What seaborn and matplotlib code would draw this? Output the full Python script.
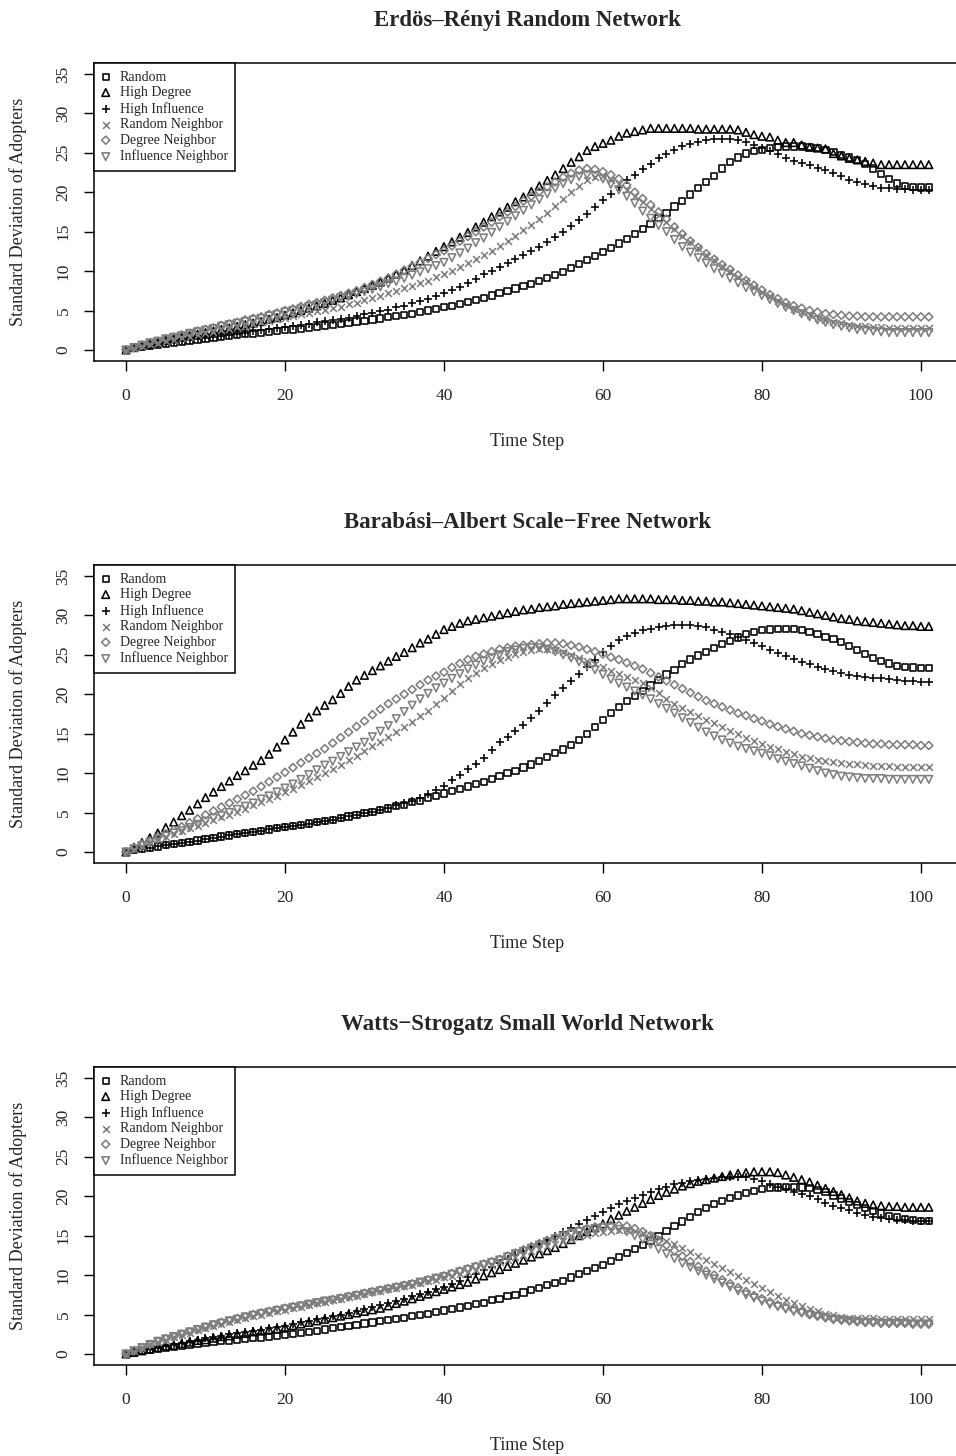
import matplotlib
matplotlib.use("Agg")
import matplotlib.pyplot as plt
import seaborn as sns

# time steps of the simulation (x axis)
time_steps = list(range(102))

strategies = ["Random", "High Degree", "High Influence",
              "Random Neighbor", "Degree Neighbor", "Influence Neighbor"]

titles = ["Erdös–Rényi Random Network",
          "Barabási–Albert Scale−Free Network",
          "Watts−Strogatz Small World Network"]

x_ticks = [0, 20, 40, 60, 80, 100]
y_ticks = [0, 5, 10, 15, 20, 25, 30, 35]

# ---- Erdos-Renyi ----
er_random = [
    0.0, 0.2, 0.35, 0.5, 0.65, 0.8, 0.9, 1.0, 1.15, 1.25,
    1.4, 1.5, 1.6, 1.75, 1.85, 2.0, 2.1, 2.2, 2.3, 2.4,
    2.5, 2.6, 2.7, 2.85, 2.95, 3.1, 3.2, 3.3, 3.45, 3.6,
    3.7, 3.85, 4.0, 4.15, 4.3, 4.45, 4.6, 4.8, 5.0, 5.2,
    5.4, 5.6, 5.85, 6.1, 6.35, 6.6, 6.9, 7.2, 7.5, 7.8,
    8.1, 8.4, 8.7, 9.1, 9.5, 9.9, 10.4, 10.9, 11.4, 11.9,
    12.4, 12.9, 13.5, 14.1, 14.7, 15.3, 16.0, 16.7, 17.4, 18.2,
    18.9, 19.7, 20.5, 21.3, 22.1, 23.0, 23.8, 24.4, 24.9, 25.2,
    25.4, 25.6, 25.7, 25.8, 25.8, 25.8, 25.7, 25.6, 25.4, 25.1,
    24.7, 24.4, 24.1, 23.6, 23.0, 22.3, 21.7, 21.1, 20.8, 20.7,
    20.6, 20.6]
er_high_degree = [
    0.0, 0.3, 0.6, 0.8, 1.0, 1.2, 1.4, 1.6, 1.8, 2.0,
    2.2, 2.4, 2.6, 2.8, 3.0, 3.2, 3.4, 3.6, 3.9, 4.1,
    4.4, 4.7, 5.0, 5.3, 5.6, 5.9, 6.3, 6.6, 7.0, 7.4,
    7.8, 8.2, 8.6, 9.1, 9.6, 10.1, 10.7, 11.3, 11.9, 12.5,
    13.1, 13.7, 14.3, 14.9, 15.6, 16.2, 16.9, 17.5, 18.1, 18.8,
    19.4, 20.1, 20.8, 21.5, 22.2, 23.0, 23.8, 24.5, 25.3, 25.8,
    26.2, 26.6, 27.1, 27.5, 27.7, 27.9, 28.1, 28.1, 28.1, 28.1,
    28.1, 28.1, 28.0, 28.0, 28.0, 28.0, 28.0, 27.9, 27.6, 27.3,
    27.1, 27.0, 26.6, 26.3, 26.3, 26.0, 25.7, 25.6, 25.5, 24.9,
    24.6, 24.3, 24.1, 23.9, 23.7, 23.5, 23.5, 23.5, 23.5, 23.5,
    23.5, 23.5]
er_high_influence = [
    0.0, 0.2, 0.4, 0.55, 0.7, 0.85, 1.0, 1.1, 1.25, 1.4,
    1.5, 1.65, 1.8, 1.9, 2.05, 2.2, 2.35, 2.5, 2.6, 2.75,
    2.9, 3.05, 3.2, 3.35, 3.5, 3.65, 3.8, 3.95, 4.1, 4.3,
    4.5, 4.7, 4.9, 5.1, 5.4, 5.6, 5.9, 6.2, 6.5, 6.8,
    7.2, 7.6, 8.0, 8.5, 9.0, 9.6, 10.0, 10.5, 11.0, 11.5,
    12.0, 12.6, 13.1, 13.7, 14.3, 15.0, 15.7, 16.5, 17.3, 18.1,
    19.0, 19.8, 20.7, 21.5, 22.2, 22.9, 23.6, 24.3, 24.9, 25.4,
    25.8, 26.1, 26.4, 26.6, 26.7, 26.8, 26.8, 26.6, 26.4, 26.0,
    25.6, 25.2, 24.8, 24.4, 24.0, 23.7, 23.4, 23.1, 22.8, 22.4,
    22.0, 21.6, 21.3, 21.0, 20.8, 20.6, 20.5, 20.4, 20.4, 20.3,
    20.3, 20.3]
er_random_neighbor = [
    0.0, 0.25, 0.5, 0.7, 0.9, 1.1, 1.3, 1.5, 1.7, 1.9,
    2.1, 2.3, 2.5, 2.7, 2.9, 3.1, 3.3, 3.5, 3.7, 3.9,
    4.1, 4.3, 4.5, 4.7, 4.9, 5.1, 5.3, 5.5, 5.8, 6.0,
    6.3, 6.6, 6.9, 7.2, 7.5, 7.8, 8.1, 8.5, 8.8, 9.2,
    9.6, 10.0, 10.5, 11.0, 11.5, 12.0, 12.6, 13.2, 13.8, 14.5,
    15.2, 15.9, 16.6, 17.4, 18.3, 19.2, 20.0, 20.8, 21.5, 21.9,
    22.0, 21.6, 21.0, 20.3, 19.5, 18.7, 17.9, 17.1, 16.2, 15.3,
    14.5, 13.7, 12.9, 12.1, 11.4, 10.7, 10.0, 9.3, 8.7, 8.0,
    7.4, 6.8, 6.2, 5.7, 5.2, 4.8, 4.4, 4.1, 3.8, 3.6,
    3.4, 3.2, 3.1, 3.0, 2.9, 2.9, 2.8, 2.8, 2.8, 2.8,
    2.8, 2.8]
er_degree_neighbor = [
    0.0, 0.3, 0.6, 0.9, 1.1, 1.4, 1.6, 1.9, 2.1, 2.4,
    2.6, 2.8, 3.1, 3.3, 3.5, 3.8, 4.0, 4.2, 4.5, 4.7,
    5.0, 5.2, 5.5, 5.8, 6.0, 6.3, 6.6, 6.9, 7.2, 7.5,
    7.9, 8.3, 8.7, 9.1, 9.6, 10.1, 10.6, 11.1, 11.6, 12.1,
    12.6, 13.2, 13.8, 14.4, 15.0, 15.6, 16.2, 16.9, 17.5, 18.2,
    18.9, 19.5, 20.1, 20.7, 21.3, 21.9, 22.4, 22.8, 23.0, 22.9,
    22.6, 22.2, 21.7, 20.9, 20.0, 19.2, 18.4, 17.5, 16.6, 15.6,
    14.7, 13.8, 13.0, 12.2, 11.5, 10.8, 10.2, 9.5, 8.8, 8.2,
    7.6, 7.0, 6.5, 6.0, 5.6, 5.3, 5.0, 4.8, 4.6, 4.5,
    4.4, 4.3, 4.3, 4.2, 4.2, 4.2, 4.2, 4.2, 4.2, 4.2,
    4.2, 4.2]
er_influence_neighbor = [
    0.0, 0.3, 0.6, 0.9, 1.1, 1.4, 1.6, 1.8, 2.1, 2.3,
    2.5, 2.7, 3.0, 3.2, 3.4, 3.6, 3.8, 4.0, 4.3, 4.5,
    4.8, 5.0, 5.2, 5.5, 5.7, 6.0, 6.3, 6.6, 6.8, 7.1,
    7.4, 7.7, 8.0, 8.4, 8.7, 9.1, 9.5, 9.9, 10.3, 10.7,
    11.1, 11.7, 12.3, 12.9, 13.6, 14.2, 14.9, 15.6, 16.3, 17.0,
    17.7, 18.4, 19.1, 19.8, 20.5, 21.1, 21.6, 22.0, 22.2, 22.1,
    21.7, 21.0, 20.3, 19.5, 18.6, 17.6, 16.7, 15.8, 15.0, 14.0,
    13.1, 12.4, 11.7, 11.0, 10.3, 9.7, 9.1, 8.5, 7.9, 7.4,
    6.9, 6.4, 5.9, 5.4, 5.0, 4.6, 4.2, 3.8, 3.5, 3.2,
    3.0, 2.8, 2.6, 2.5, 2.4, 2.3, 2.2, 2.2, 2.2, 2.2,
    2.2, 2.2]

# ---- Barabasi-Albert ----
ba_random = [
    0.0, 0.2, 0.4, 0.55, 0.7, 0.85, 1.0, 1.15, 1.3, 1.45,
    1.6, 1.8, 1.95, 2.1, 2.25, 2.4, 2.55, 2.7, 2.85, 3.0,
    3.15, 3.3, 3.45, 3.6, 3.75, 3.9, 4.1, 4.3, 4.5, 4.7,
    4.9, 5.1, 5.3, 5.5, 5.8, 6.0, 6.3, 6.5, 6.8, 7.1,
    7.4, 7.7, 8.0, 8.3, 8.6, 8.9, 9.3, 9.6, 10.0, 10.3,
    10.7, 11.1, 11.5, 12.0, 12.5, 13.0, 13.6, 14.2, 15.0, 15.8,
    16.7, 17.6, 18.4, 19.1, 19.8, 20.4, 21.1, 21.8, 22.5, 23.1,
    23.8, 24.4, 24.9, 25.4, 25.9, 26.4, 26.8, 27.2, 27.6, 27.9,
    28.1, 28.2, 28.3, 28.3, 28.3, 28.1, 27.9, 27.6, 27.3, 27.0,
    26.6, 26.1, 25.6, 25.1, 24.6, 24.2, 23.9, 23.6, 23.5, 23.4,
    23.3, 23.3]
ba_high_degree = [
    0.0, 0.6, 1.2, 1.8, 2.4, 3.1, 3.8, 4.6, 5.3, 6.1,
    6.9, 7.6, 8.3, 9.0, 9.7, 10.3, 11.0, 11.6, 12.4, 13.3,
    14.2, 15.2, 16.2, 17.1, 17.9, 18.6, 19.3, 20.1, 21.0, 21.8,
    22.4, 23.0, 23.6, 24.2, 24.8, 25.3, 25.9, 26.5, 27.0, 27.6,
    28.2, 28.6, 29.0, 29.3, 29.5, 29.7, 29.9, 30.1, 30.3, 30.5,
    30.7, 30.8, 31.0, 31.1, 31.2, 31.4, 31.5, 31.6, 31.7, 31.8,
    31.9, 32.0, 32.1, 32.1, 32.1, 32.1, 32.1, 32.0, 32.0, 32.0,
    31.9, 31.9, 31.8, 31.8, 31.7, 31.7, 31.6, 31.5, 31.4, 31.3,
    31.2, 31.1, 31.0, 30.9, 30.8, 30.6, 30.4, 30.2, 30.0, 29.8,
    29.6, 29.5, 29.3, 29.2, 29.1, 29.0, 28.9, 28.8, 28.7, 28.7,
    28.6, 28.6]
ba_high_influence = [
    0.0, 0.2, 0.4, 0.55, 0.7, 0.85, 1.0, 1.15, 1.3, 1.45,
    1.6, 1.8, 1.95, 2.1, 2.25, 2.4, 2.55, 2.7, 2.85, 3.0,
    3.15, 3.3, 3.45, 3.6, 3.75, 3.9, 4.1, 4.3, 4.5, 4.7,
    4.9, 5.1, 5.3, 5.6, 5.9, 6.2, 6.5, 6.9, 7.3, 7.8,
    8.4, 9.1, 9.8, 10.5, 11.2, 11.9, 12.9, 13.9, 14.6, 15.3,
    16.1, 17.0, 17.9, 18.9, 19.9, 20.8, 21.7, 22.6, 23.5, 24.4,
    25.3, 26.1, 26.9, 27.4, 27.8, 28.1, 28.3, 28.5, 28.7, 28.8,
    28.8, 28.8, 28.7, 28.5, 28.2, 27.9, 27.6, 27.2, 26.9, 26.5,
    26.1, 25.6, 25.2, 24.8, 24.5, 24.1, 23.8, 23.5, 23.2, 22.9,
    22.7, 22.5, 22.3, 22.2, 22.1, 22.0, 21.9, 21.8, 21.7, 21.7,
    21.6, 21.6]
ba_random_neighbor = [
    0.0, 0.4, 0.8, 1.2, 1.6, 1.9, 2.3, 2.6, 3.0, 3.3,
    3.7, 4.0, 4.4, 4.7, 5.1, 5.5, 5.9, 6.3, 6.7, 7.1,
    7.6, 8.0, 8.5, 9.0, 9.5, 10.0, 10.5, 11.0, 11.6, 12.2,
    12.8, 13.4, 14.0, 14.6, 15.2, 15.8, 16.5, 17.2, 17.9, 18.7,
    19.5, 20.4, 21.3, 22.0, 22.7, 23.3, 23.8, 24.3, 24.7, 25.1,
    25.4, 25.6, 25.7, 25.7, 25.6, 25.3, 25.0, 24.6, 24.2, 23.8,
    23.4, 23.0, 22.6, 22.2, 21.8, 21.4, 20.8, 20.1, 19.4, 18.8,
    18.2, 17.7, 17.2, 16.7, 16.3, 15.9, 15.4, 15.0, 14.5, 14.1,
    13.7, 13.3, 13.0, 12.7, 12.4, 12.1, 11.9, 11.7, 11.5, 11.4,
    11.3, 11.2, 11.1, 11.0, 10.9, 10.9, 10.9, 10.8, 10.8, 10.8,
    10.8, 10.8]
ba_degree_neighbor = [
    0.0, 0.5, 1.0, 1.4, 1.9, 2.3, 2.8, 3.2, 3.7, 4.2,
    4.7, 5.2, 5.7, 6.2, 6.7, 7.2, 7.7, 8.3, 8.9, 9.5,
    10.1, 10.7, 11.3, 11.9, 12.5, 13.1, 13.8, 14.5, 15.2, 15.9,
    16.6, 17.4, 18.1, 18.8, 19.4, 20.0, 20.6, 21.2, 21.8, 22.3,
    22.8, 23.4, 23.9, 24.4, 24.8, 25.1, 25.4, 25.7, 25.9, 26.1,
    26.2, 26.3, 26.4, 26.5, 26.5, 26.4, 26.2, 26.0, 25.7, 25.4,
    25.1, 24.7, 24.4, 24.0, 23.6, 23.2, 22.7, 22.2, 21.7, 21.2,
    20.7, 20.2, 19.7, 19.2, 18.8, 18.4, 18.0, 17.6, 17.3, 16.9,
    16.6, 16.2, 15.9, 15.6, 15.3, 15.0, 14.8, 14.6, 14.4, 14.2,
    14.1, 14.0, 13.9, 13.8, 13.7, 13.7, 13.6, 13.6, 13.6, 13.6,
    13.5, 13.5]
ba_influence_neighbor = [
    0.0, 0.4, 0.8, 1.2, 1.6, 2.0, 2.4, 2.7, 3.1, 3.5,
    3.9, 4.3, 4.6, 5.0, 5.4, 5.8, 6.2, 6.7, 7.1, 7.6,
    8.1, 8.6, 9.2, 9.8, 10.4, 11.0, 11.5, 12.1, 12.7, 13.3,
    13.9, 14.6, 15.3, 16.0, 16.9, 17.8, 18.6, 19.4, 20.1, 20.8,
    21.4, 22.0, 22.6, 23.2, 23.7, 24.2, 24.6, 25.0, 25.4, 25.6,
    25.8, 25.9, 25.9, 25.7, 25.4, 25.0, 24.6, 24.1, 23.6, 23.1,
    22.5, 21.9, 21.4, 20.9, 20.4, 19.9, 19.4, 18.8, 18.2, 17.6,
    17.0, 16.4, 15.8, 15.2, 14.7, 14.2, 13.8, 13.4, 13.1, 12.8,
    12.5, 12.2, 11.8, 11.5, 11.2, 10.9, 10.6, 10.3, 10.0, 9.8,
    9.6, 9.5, 9.4, 9.3, 9.3, 9.3, 9.2, 9.2, 9.2, 9.2,
    9.2, 9.2]

# ---- Watts-Strogatz ----
ws_random = [
    0.0, 0.2, 0.35, 0.5, 0.65, 0.8, 0.9, 1.0, 1.15, 1.25,
    1.4, 1.5, 1.6, 1.7, 1.8, 1.9, 2.0, 2.1, 2.2, 2.3,
    2.4, 2.5, 2.65, 2.8, 2.95, 3.1, 3.25, 3.4, 3.55, 3.7,
    3.85, 4.0, 4.15, 4.3, 4.45, 4.6, 4.8, 4.95, 5.1, 5.3,
    5.5, 5.7, 5.9, 6.1, 6.3, 6.5, 6.8, 7.0, 7.3, 7.5,
    7.8, 8.1, 8.4, 8.7, 9.0, 9.3, 9.7, 10.1, 10.5, 10.9,
    11.3, 11.8, 12.3, 12.8, 13.3, 13.8, 14.4, 15.0, 15.6, 16.2,
    16.8, 17.4, 18.0, 18.5, 19.0, 19.4, 19.8, 20.1, 20.4, 20.7,
    20.9, 21.0, 21.1, 21.2, 21.2, 21.1, 21.0, 20.8, 20.5, 20.1,
    19.7, 19.3, 18.9, 18.5, 18.1, 17.8, 17.5, 17.3, 17.1, 17.0,
    16.9, 16.9]
ws_high_degree = [
    0.0, 0.2, 0.4, 0.6, 0.8, 1.0, 1.1, 1.3, 1.5, 1.7,
    1.8, 2.0, 2.2, 2.3, 2.5, 2.6, 2.8, 2.9, 3.1, 3.2,
    3.4, 3.6, 3.8, 4.0, 4.2, 4.4, 4.6, 4.8, 5.0, 5.2,
    5.4, 5.6, 5.8, 6.1, 6.4, 6.7, 7.0, 7.3, 7.6, 7.9,
    8.2, 8.5, 8.8, 9.1, 9.5, 9.9, 10.3, 10.7, 11.1, 11.5,
    11.9, 12.3, 12.7, 13.1, 13.5, 14.0, 14.5, 15.0, 15.5, 16.0,
    16.5, 17.1, 17.6, 18.1, 18.6, 19.1, 19.6, 20.1, 20.5, 20.9,
    21.3, 21.6, 21.9, 22.1, 22.3, 22.5, 22.7, 22.9, 23.0, 23.1,
    23.1, 23.1, 23.0, 22.7, 22.4, 22.1, 21.8, 21.4, 21.0, 20.6,
    20.2, 19.8, 19.4, 19.1, 18.9, 18.8, 18.7, 18.7, 18.6, 18.6,
    18.6, 18.6]
ws_high_influence = [
    0.0, 0.2, 0.4, 0.6, 0.8, 1.0, 1.2, 1.4, 1.6, 1.8,
    2.0, 2.1, 2.3, 2.5, 2.6, 2.8, 2.9, 3.1, 3.3, 3.4,
    3.6, 3.8, 4.0, 4.2, 4.4, 4.6, 4.8, 5.0, 5.2, 5.5,
    5.7, 5.9, 6.2, 6.4, 6.7, 7.0, 7.3, 7.6, 7.9, 8.2,
    8.5, 8.9, 9.3, 9.7, 10.1, 10.6, 11.0, 11.5, 12.0, 12.5,
    13.0, 13.5, 14.0, 14.5, 15.0, 15.5, 16.0, 16.5, 17.0, 17.5,
    18.0, 18.5, 19.0, 19.4, 19.8, 20.2, 20.6, 20.9, 21.2, 21.5,
    21.7, 21.9, 22.1, 22.2, 22.3, 22.4, 22.5, 22.5, 22.4, 22.2,
    21.9, 21.6, 21.2, 20.9, 20.6, 20.3, 20.0, 19.6, 19.2, 18.8,
    18.5, 18.2, 17.9, 17.6, 17.4, 17.2, 17.1, 17.0, 17.0, 16.9,
    16.9, 16.9]
ws_random_neighbor = [
    0.0, 0.4, 0.8, 1.2, 1.5, 1.8, 2.1, 2.4, 2.7, 3.0,
    3.3, 3.6, 3.8, 4.1, 4.3, 4.6, 4.8, 5.0, 5.2, 5.4,
    5.6, 5.8, 6.0, 6.2, 6.4, 6.6, 6.8, 7.0, 7.2, 7.4,
    7.6, 7.8, 8.0, 8.2, 8.4, 8.6, 8.8, 9.0, 9.2, 9.4,
    9.7, 9.9, 10.2, 10.4, 10.7, 11.0, 11.3, 11.6, 11.9, 12.3,
    12.6, 13.0, 13.3, 13.7, 14.0, 14.3, 14.6, 14.9, 15.1, 15.3,
    15.5, 15.6, 15.7, 15.7, 15.6, 15.4, 15.1, 14.7, 14.3, 13.9,
    13.4, 12.9, 12.4, 11.9, 11.4, 10.9, 10.4, 9.9, 9.4, 8.9,
    8.4, 7.9, 7.4, 6.9, 6.5, 6.1, 5.7, 5.4, 5.1, 4.9,
    4.7, 4.6, 4.5, 4.5, 4.5, 4.4, 4.4, 4.4, 4.4, 4.4,
    4.4, 4.4]
ws_degree_neighbor = [
    0.0, 0.4, 0.8, 1.2, 1.6, 1.9, 2.2, 2.5, 2.8, 3.1,
    3.4, 3.7, 4.0, 4.2, 4.5, 4.7, 5.0, 5.2, 5.4, 5.6,
    5.8, 6.0, 6.1, 6.3, 6.5, 6.7, 6.9, 7.1, 7.3, 7.5,
    7.7, 7.9, 8.1, 8.3, 8.5, 8.7, 8.9, 9.1, 9.4, 9.6,
    9.9, 10.2, 10.5, 10.8, 11.1, 11.4, 11.7, 12.0, 12.4, 12.8,
    13.2, 13.6, 14.0, 14.4, 14.8, 15.1, 15.4, 15.7, 15.9, 16.1,
    16.2, 16.3, 16.3, 16.2, 15.9, 15.5, 15.0, 14.4, 13.8, 13.1,
    12.4, 11.7, 11.1, 10.5, 10.0, 9.4, 8.9, 8.4, 7.9, 7.4,
    7.0, 6.6, 6.2, 5.9, 5.6, 5.3, 5.0, 4.8, 4.6, 4.4,
    4.3, 4.2, 4.1, 4.0, 4.0, 3.9, 3.9, 3.9, 3.9, 3.8,
    3.8, 3.8]
ws_influence_neighbor = [
    0.0, 0.4, 0.8, 1.2, 1.6, 1.9, 2.2, 2.5, 2.8, 3.1,
    3.4, 3.7, 3.9, 4.2, 4.4, 4.7, 4.9, 5.1, 5.3, 5.5,
    5.7, 5.9, 6.1, 6.3, 6.5, 6.7, 6.8, 7.0, 7.2, 7.4,
    7.6, 7.8, 8.0, 8.2, 8.4, 8.6, 8.8, 9.1, 9.3, 9.6,
    9.8, 10.1, 10.4, 10.7, 11.0, 11.3, 11.6, 11.9, 12.3, 12.7,
    13.0, 13.4, 13.8, 14.2, 14.6, 14.9, 15.2, 15.5, 15.7, 15.9,
    16.0, 16.0, 15.8, 15.5, 15.0, 14.5, 13.9, 13.3, 12.7, 12.1,
    11.5, 11.0, 10.5, 10.0, 9.5, 9.0, 8.5, 8.0, 7.5, 7.1,
    6.7, 6.3, 6.0, 5.7, 5.4, 5.2, 5.0, 4.8, 4.6, 4.4,
    4.3, 4.2, 4.1, 4.0, 4.0, 3.9, 3.9, 3.9, 3.9, 3.8,
    3.8, 3.8]

panels = [
    (titles[0], [er_random, er_high_degree, er_high_influence,
                 er_random_neighbor, er_degree_neighbor, er_influence_neighbor]),
    (titles[1], [ba_random, ba_high_degree, ba_high_influence,
                 ba_random_neighbor, ba_degree_neighbor, ba_influence_neighbor]),
    (titles[2], [ws_random, ws_high_degree, ws_high_influence,
                 ws_random_neighbor, ws_degree_neighbor, ws_influence_neighbor]),
]

# R-like point symbols: open square, open triangle, plus, cross, open diamond, open down-triangle
GREY = "#7f7f7f"
marker_styles = [
    dict(marker="s", color="black", s=20, open=True),
    dict(marker="^", color="black", s=30, open=True),
    dict(marker="+", color="black", s=38, open=False),
    dict(marker="x", color=GREY, s=24, open=False),
    dict(marker="D", color=GREY, s=17, open=True),
    dict(marker="v", color=GREY, s=30, open=True),
]

sns.set_style("ticks")
plt.rcParams["font.family"] = ["Liberation Serif", "DejaVu Serif"]

fig = plt.figure(figsize=(9.56, 14.56), dpi=100)

ax_left = 93.9 / 956
ax_width = 867 / 956
ax_height = 298.1 / 1456
ax_bottoms = [1 - 361.0 / 1456, 1 - 863.0 / 1456, 1 - 1365.0 / 1456]

for (title, series), bottom in zip(panels, ax_bottoms):
    ax = fig.add_axes([ax_left, bottom, ax_width, ax_height])
    for name, values, st in zip(strategies, series, marker_styles):
        if st["open"]:
            sns.scatterplot(x=time_steps, y=values, ax=ax, marker=st["marker"], s=st["s"],
                            facecolor="none", edgecolor=st["color"], linewidth=1.15,
                            label=name, zorder=3)
        else:
            sns.scatterplot(x=time_steps, y=values, ax=ax, marker=st["marker"], s=st["s"],
                            color=st["color"], linewidth=1.15, label=name, zorder=3)

    ax.set_xlim(-4.04, 105.04)
    ax.set_ylim(-1.4, 36.4)
    ax.set_xticks(x_ticks)
    ax.set_yticks(y_ticks)
    ax.set_xticklabels([str(t) for t in x_ticks], fontsize=12.5)
    ax.set_yticklabels([str(t) for t in y_ticks], fontsize=12.5, rotation=90, va="center")
    ax.tick_params(axis="both", direction="out", length=7.5, width=1.0, color="black")
    ax.tick_params(axis="x", pad=12)
    ax.tick_params(axis="y", pad=8.5)
    for sp in ax.spines.values():
        sp.set_visible(True)
        sp.set_linewidth(1.1)
        sp.set_color("black")

    ax.set_title(title, fontsize=16.5, fontweight="bold", pad=0,
                 y=1 + 42 / 298.1, va="center")
    ax.set_xlabel("Time Step", fontsize=13)
    ax.xaxis.set_label_coords(0.5, -80 / 298.1)
    ax.xaxis.label.set_va("center")
    ax.set_ylabel("Standard Deviation of Adopters", fontsize=13)
    ax.yaxis.set_label_coords((18 - 93.9) / 867, 0.5)
    ax.yaxis.label.set_va("center")

    leg = ax.legend(loc="upper left", bbox_to_anchor=(0, 1), borderaxespad=0,
                    fontsize=10, frameon=True, fancybox=False, framealpha=1,
                    edgecolor="black", borderpad=0.55, labelspacing=0.19,
                    handlelength=0.6, handletextpad=0.7, scatterpoints=1)
    leg.get_frame().set_linewidth(1.1)

fig.savefig("out.png", dpi=100)
